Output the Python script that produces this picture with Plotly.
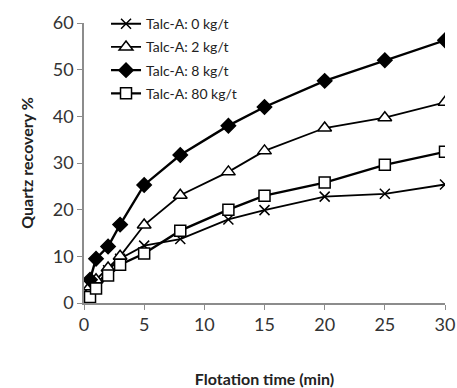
import plotly.graph_objects as go

time_min = [0.5, 1, 2, 3, 5, 8, 12, 15, 20, 25, 30]
rec_0 = [1.8, 3.8, 7.0, 9.5, 12.3, 13.7, 17.9, 19.9, 22.8, 23.4, 25.4]
rec_2 = [3.5, 5.0, 7.5, 10.0, 16.7, 23.1, 28.1, 32.6, 37.5, 39.7, 43.0]
rec_8 = [5.0, 9.5, 12.1, 16.8, 25.3, 31.7, 38.0, 42.0, 47.6, 52.0, 56.3]
rec_80 = [1.3, 3.1, 5.9, 8.2, 10.6, 15.5, 20.0, 23.0, 25.8, 29.6, 32.4]

series_names = ["Talc-A: 0 kg/t", "Talc-A: 2 kg/t", "Talc-A: 8 kg/t", "Talc-A: 80 kg/t"]
series_vals = [rec_0, rec_2, rec_8, rec_80]
symbols = ["x-thin", "triangle-up", "diamond", "square"]
fills = ["black", "white", "black", "white"]
sizes = [10, 12, 11, 11]
widths = [1.8, 1.8, 2.4, 2.4]

fig = go.Figure()
for i, (name, vals, sym, fc, sz, w) in enumerate(zip(series_names, series_vals, symbols, fills, sizes, widths)):
    fig.add_trace(go.Scatter(
        x=time_min, y=vals, name=name, mode="lines+markers",
        legendgroup=f"g{i}",
        line=dict(color="black", width=w),
        marker=dict(symbol=sym, size=sz, color=fc,
                    line=dict(color="black", width=1.5)),
    ))

font_family = "Lato, 'Open Sans', sans-serif"
fig.update_layout(
    width=457, height=388,
    margin=dict(l=84, r=12, t=23, b=85, autoexpand=False),
    paper_bgcolor="white", plot_bgcolor="white",
    font=dict(family=font_family, color="#333333"),
    showlegend=True,
    legend=dict(x=0.061, y=1.053, xanchor="left", yanchor="top",
                font=dict(size=14, color="#222222"), bgcolor="rgba(0,0,0,0)",
                tracegroupgap=2),
    xaxis=dict(range=[0, 30], tickvals=[0, 5, 10, 15, 20, 25, 30],
               showline=True, linecolor="#8c8c8c", linewidth=1.5,
               ticks="outside", ticklen=5, tickcolor="#8c8c8c",
               showgrid=False, zeroline=False,
               tickfont=dict(size=18, color="#333333"),
               title=dict(text="<b>Flotation time (min)</b>", font=dict(size=16, color="#222222"), standoff=41)),
    yaxis=dict(range=[0, 60], tickvals=[0, 10, 20, 30, 40, 50, 60],
               showline=True, linecolor="#8c8c8c", linewidth=1.5,
               ticks="outside", ticklen=5, tickcolor="#8c8c8c",
               showgrid=False, zeroline=False,
               tickfont=dict(size=18, color="#333333"),
               title=dict(text="<b>Quartz recovery %</b>", font=dict(size=16, color="#222222"), standoff=15)),
)

fig.write_html(
    "out.html",
    config={"displayModeBar": False},
    post_script="document.body.style.margin='0';document.body.style.overflow='hidden';",
)
